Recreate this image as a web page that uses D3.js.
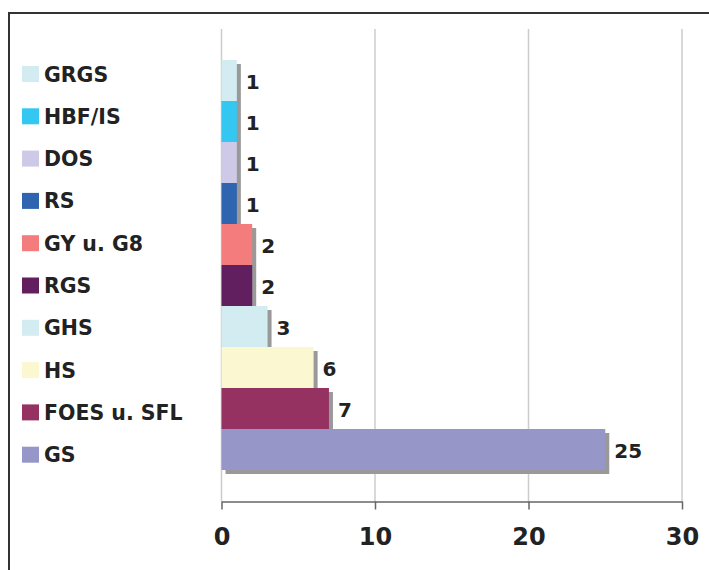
<!DOCTYPE html>
<html>
<head>
<meta charset="utf-8">
<script src="https://cdn.jsdelivr.net/npm/d3@7"></script>
<style>
  body { margin: 0; background: #fff; }
  svg { display: block; font-family: "DejaVu Sans", Verdana, sans-serif; font-weight: bold; }
</style>
</head>
<body>
<svg width="709" height="570"></svg>
<script>
// Data
const categories = ["GRGS", "HBF/IS", "DOS", "RS", "GY u. G8", "RGS", "GHS", "HS", "FOES u. SFL", "GS"];
const values = [1, 1, 1, 1, 2, 2, 3, 6, 7, 25];
const colors = ["#d3ecf2", "#33c7f2", "#cdc9e6", "#2e64b0", "#f47c7c", "#621f5f", "#d3ecf2", "#fbf8d1", "#963262", "#9696c8"];
const tickValues = [0, 10, 20, 30];

const svg = d3.select("svg");

// frame
svg.append("rect")
   .attr("x", 9).attr("y", 13)
   .attr("width", 720).attr("height", 580)
   .attr("fill", "none")
   .attr("stroke", "#333")
   .attr("stroke-width", 2);

const xScale = d3.scaleLinear().domain([0, 30]).range([221.5, 682]);
const yScale = d3.scaleBand().domain(categories).range([60, 470]).padding(0);

const chart = svg.append("g");

// gridlines
chart.selectAll(".grid")
     .data(tickValues)
     .enter()
     .append("line")
     .attr("x1", d => xScale(d)).attr("x2", d => xScale(d))
     .attr("y1", 29).attr("y2", 501.5)
     .attr("stroke", "#cccccc")
     .attr("stroke-width", 1.5);

// x axis
const axis = chart.append("g")
     .attr("transform", "translate(0, 501.5)")
     .call(d3.axisBottom(xScale).tickValues(tickValues).tickSize(8).tickPadding(18).tickSizeOuter(0));
axis.select(".domain").attr("stroke", "#666").attr("stroke-width", 1.5);
axis.selectAll(".tick line").attr("stroke", "#666").attr("stroke-width", 1.5);
axis.selectAll(".tick text")
    .attr("fill", "#222")
    .style("font-size", "24px")
    .style("font-weight", "bold")
    .style("font-family", "DejaVu Sans, Verdana, sans-serif");

// shadows
chart.selectAll(".shadow")
     .data(values)
     .enter()
     .append("rect")
     .attr("x", xScale(0) + 4)
     .attr("y", (d, i) => yScale(categories[i]) + 4)
     .attr("width", d => xScale(d) - xScale(0))
     .attr("height", yScale.bandwidth())
     .attr("fill", "#999");

// bars
chart.selectAll(".bar")
     .data(values)
     .enter()
     .append("rect")
     .attr("x", xScale(0))
     .attr("y", (d, i) => yScale(categories[i]))
     .attr("width", d => xScale(d) - xScale(0))
     .attr("height", yScale.bandwidth())
     .attr("fill", (d, i) => colors[i]);

// value labels
chart.selectAll(".val")
     .data(values)
     .enter()
     .append("text")
     .attr("x", d => xScale(d) + 9)
     .attr("y", (d, i) => yScale(categories[i]) + yScale.bandwidth() / 2 + 8)
     .attr("fill", "#222")
     .style("font-size", "20px")
     .text(d => d);

// legend
const legend = svg.append("g");
const row = legend.selectAll(".leg")
     .data(categories)
     .enter()
     .append("g")
     .attr("transform", (d, i) => `translate(22, ${74 + i * 42.3})`);
row.append("rect")
   .attr("x", 0).attr("y", -8)
   .attr("width", 17).attr("height", 16)
   .attr("fill", (d, i) => colors[i]);
row.append("text")
   .attr("x", 22).attr("y", 7.5)
   .attr("fill", "#222")
   .style("font-size", "20.5px")
   .text(d => d);
</script>
</body>
</html>
